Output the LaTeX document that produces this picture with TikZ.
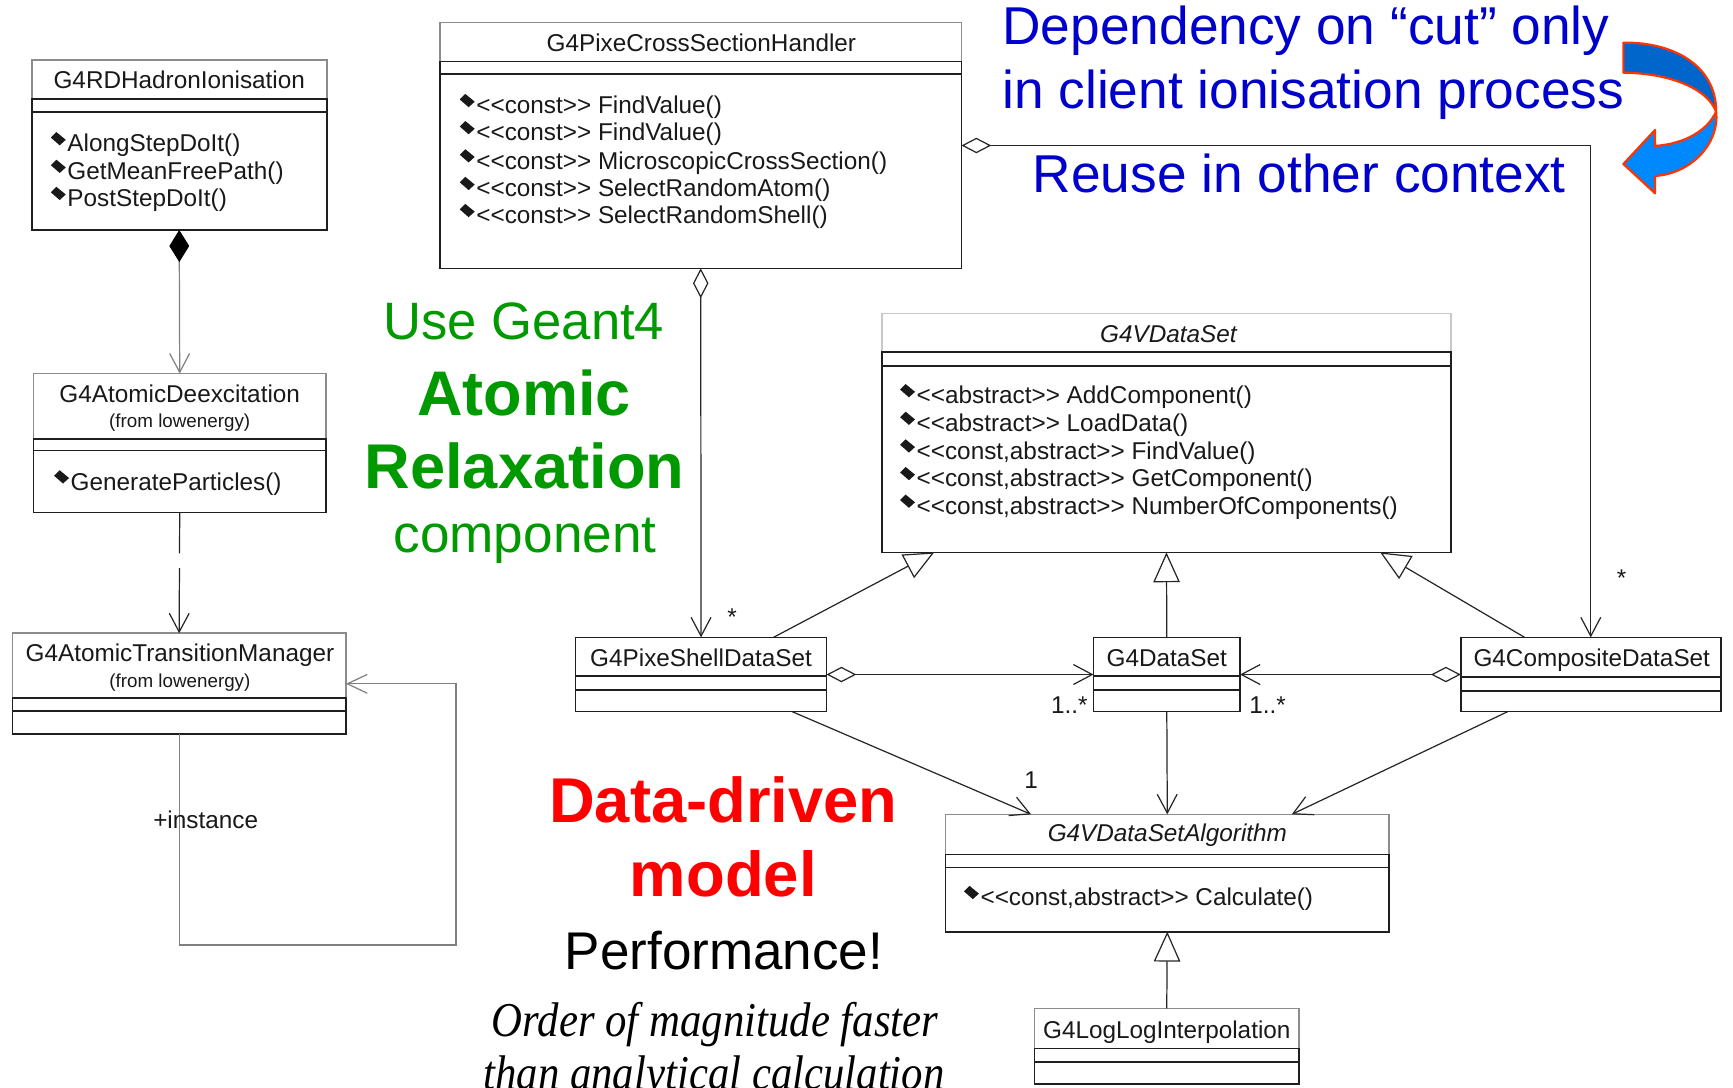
\documentclass[tikz,border=0pt]{standalone}
\usepackage{fontspec}
\usepackage{graphicx}
\setmainfont{Liberation Sans}
\newfontfamily\umlfont{Liberation Sans}
\newfontfamily\serifit{Liberation Serif}
\usetikzlibrary{arrows.meta,calc}
\definecolor{bluetxt}{RGB}{0,0,204}
\definecolor{greentxt}{RGB}{0,153,0}
\definecolor{redtxt}{RGB}{255,0,0}
\definecolor{arrdark}{RGB}{0,102,204}
\definecolor{arrlight}{RGB}{0,136,255}
\definecolor{arredge}{RGB}{255,51,0}
\definecolor{linegray}{RGB}{128,128,128}
\definecolor{titlegray}{RGB}{140,140,140}
\definecolor{titlelight}{RGB}{200,200,200}

\tikzset{
  boxline/.style={line width=1.5pt, draw=black!88},
  conn/.style={line width=1.1pt, draw=black!85},
  grayconn/.style={line width=1.1pt, draw=linegray},
  assoc/.style={conn, -{Straight Barb[length=17pt,width=18pt]}},
  gen/.style={conn, -{Triangle[open,length=27pt,width=24pt]}},
  aggr/.style={conn, {Diamond[open,length=27pt,width=14pt]}-{Straight Barb[length=17pt,width=18pt]}},
  comp/.style={grayconn, {Diamond[color=black,length=29pt,width=18pt]}-{Straight Barb[length=17pt,width=18pt]}},
  depend/.style={conn, dash pattern=on 59pt off 13.5pt, dash phase=22pt, -{Straight Barb[length=17pt,width=18pt]}},
  selfloop/.style={grayconn, -{Straight Barb[length=18pt,width=17pt]}},
  umltxt/.style={inner sep=0pt, outer sep=0pt, text=black!90, font=\umlfont\fontsize{22}{25}\selectfont},
  umlsmall/.style={umltxt, font=\umlfont\fontsize{17}{19}\selectfont},
  umlital/.style={umltxt, font=\umlfont\itshape\fontsize{22}{25}\selectfont},
  bigtxt/.style={inner sep=0pt, outer sep=0pt, anchor=base},
}

% name, left, top, right, line1, line2, bottom, title border colour
\newcommand\umlclass[8]{%
  \node[inner sep=0pt, outer sep=0pt, minimum width={(#4-#2)*1pt}, minimum height={(#7-#3)*1pt}, anchor=north west] (#1) at (#2,#3) {};
  \draw[boxline, draw=#8] (#2,#5) -- (#2,#3) -- (#4,#3) -- (#4,#5);
  \draw[boxline] (#2,#5) -- (#2,#7) -- (#4,#7) -- (#4,#5) -- cycle;
  \draw[boxline] (#2,#6) -- (#4,#6);
}
% name, x of text start, baseline, text
\newcommand\umlop[4]{%
  \fill[black!90] (#2-15,#3-13) -- (#2-10,#3-18) -- (#2-1.5,#3-11) -- (#2-7,#3-6) -- cycle;
  \node[umltxt, anchor=base west] (#1) at (#2,#3) {#4};
}

\begin{document}
\begin{tikzpicture}[x=1pt,y=-1pt]
\useasboundingbox (0,0) rectangle (1568,984);
\fill[white] (0,0) rectangle (1568,984);
\clip (0,0) rectangle (1568,984);

% ---------------- classes ----------------
\umlclass{hadron}{28.7}{54.5}{295.6}{89.7}{101.3}{208.1}{titlegray}
\node[umltxt, anchor=base] (hadronT) at (162.2,80.4) {G4RDHadronIonisation};
\umlop{hadron1}{61}{137.5}{AlongStepDoIt()}
\umlop{hadron2}{61}{162.5}{GetMeanFreePath()}
\umlop{hadron3}{61}{187}{PostStepDoIt()}

\umlclass{deex}{30.2}{338}{295}{397.2}{407.5}{463.6}{titlegray}
\node[umltxt, anchor=base] (deexT) at (162.6,364.5) {G4AtomicDeexcitation};
\node[umlsmall, anchor=base] (deexS) at (162.6,387) {(from lowenergy)};
\umlop{deex1}{64}{443.5}{GenerateParticles()}

\umlclass{atm}{11.2}{573}{313}{631.3}{643.3}{664.4}{titlegray}
\node[umltxt, anchor=base] (atmT) at (162.8,598.7) {G4AtomicTransitionManager};
\node[umlsmall, anchor=base] (atmS) at (162.8,621.9) {(from lowenergy)};

\umlclass{handler}{398.1}{20.5}{869.9}{55.8}{67}{242.8}{titlegray}
\node[umltxt, anchor=base] (handlerT) at (634.6,46.8) {G4PixeCrossSectionHandler};
\umlop{handler1}{431}{103}{<<const>> FindValue()}
\umlop{handler2}{431}{127.5}{<<const>> FindValue()}
\umlop{handler3}{431}{153}{<<const>> MicroscopicCrossSection()}
\umlop{handler4}{431}{178}{<<const>> SelectRandomAtom()}
\umlop{handler5}{431}{202.5}{<<const>> SelectRandomShell()}

\umlclass{vdataset}{797.8}{283.5}{1313}{318.2}{330.9}{499.8}{titlelight}
\node[umlital, anchor=base] (vdatasetT) at (1057.1,310) {G4VDataSet};
\umlop{vds1}{829.4}{365.5}{<<abstract>> AddComponent()}
\umlop{vds2}{829.4}{390.5}{<<abstract>> LoadData()}
\umlop{vds3}{829.4}{415.5}{<<const,abstract>> FindValue()}
\umlop{vds4}{829.4}{440.5}{<<const,abstract>> GetComponent()}
\umlop{vds5}{829.4}{465.5}{<<const,abstract>> NumberOfComponents()}

\umlclass{shell}{520.8}{576.7}{747.8}{611.7}{624.3}{643.9}{black!88}
\node[umltxt, anchor=base] (shellT) at (634.3,602.6) {G4PixeShellDataSet};

\umlclass{dataset}{989.4}{576.7}{1122}{611.7}{624.3}{643.9}{black!88}
\node[umltxt, anchor=base] (datasetT) at (1055.7,602.6) {G4DataSet};

\umlclass{composite}{1321.7}{576.7}{1556.9}{612.3}{625}{643.9}{black!88}
\node[umltxt, anchor=base] (compositeT) at (1440.2,602.6) {G4CompositeDataSet};

\umlclass{vdsa}{855.6}{736.8}{1256.7}{773}{784.8}{843}{titlegray}
\node[umlital, anchor=base] (vdsaT) at (1056.2,761.6) {G4VDataSetAlgorithm};
\umlop{vdsa1}{887.2}{819.5}{<<const,abstract>> Calculate()}

\umlclass{loglog}{936}{912.4}{1175.3}{948.6}{960.6}{980.8}{titlegray}
\node[umltxt, anchor=base] (loglogT) at (1055.7,939.5) {G4LogLogInterpolation};

% ---------------- connectors ----------------
\draw[comp] (hadron.south) -- (deex.north);
\draw[depend] (deex.south) -- (atm.north);
\coordinate (loopc) at (412.6,855);
\draw[selfloop] (atm.south) |- (loopc) |- (atm.east);
\node[umltxt, anchor=base west] (inst) at (138.7,749.5) {+instance};

\draw[aggr] (handler.south) -- (shell.north);
\node[umltxt, anchor=base west] (m1) at (658,566) {*};
\draw[aggr] (handler.east) -| (composite.north);
\node[umltxt, anchor=base west] (m2) at (1463,531) {*};

\draw[aggr] (shell.east) -- (dataset.west);
\node[umltxt, anchor=base west] (m3) at (951,645.4) {1..*};
\draw[aggr] (composite.west) -- (dataset.east);
\node[umltxt, anchor=base west] (m4) at (1130.4,645.4) {1..*};

\draw[gen] ([xshift=-48pt]shell.north east) -- ([xshift=47.4pt]vdataset.south west);
\draw[gen] (dataset.north) -- (vdataset.south);
\draw[gen] ([xshift=57.8pt]composite.north west) -- ([xshift=-64.2pt]vdataset.south east);

\draw[assoc] ([xshift=-31pt]shell.south east) -- ([xshift=77.3pt]vdsa.north west);
\node[umltxt, anchor=base] (m5) at (933,713) {1};
\draw[assoc] (dataset.south) -- (vdsa.north);
\draw[assoc] ([xshift=42.4pt]composite.south west) -- ([xshift=-87.9pt]vdsa.north east);
\draw[gen] (loglog.north) -- (vdsa.south);

% ---------------- annotations ----------------
\node[bigtxt, anchor=base west, text=bluetxt, font=\fontsize{48.2}{55}\selectfont] (b1) at (907,40.7) {Dependency on “cut” only};
\node[bigtxt, anchor=base west, text=bluetxt, font=\fontsize{48.2}{55}\selectfont] (b2) at (907,98) {in client ionisation process};
\node[bigtxt, anchor=base west, text=bluetxt, font=\fontsize{48.2}{55}\selectfont] (b3) at (934.5,174.6) {Reuse in other context};

\filldraw[fill=arrdark, draw=arredge, line width=2pt, line join=round]
  (1468.8,38.6) .. controls (1515,38) and (1553,60) .. (1552.7,101)
  .. controls (1545,80) and (1510,66) .. (1468.8,65.8) -- cycle;
\filldraw[fill=arrlight, draw=arredge, line width=2pt, line join=round]
  (1552.7,101) .. controls (1556,130) and (1530,157) .. (1497.5,159.2)
  -- (1497.5,174.9) -- (1468.8,148.4) -- (1497.5,117.6) -- (1497.5,132.1)
  .. controls (1525,130) and (1545,118) .. (1552.7,101) -- cycle;

\node[bigtxt, text=greentxt, font=\fontsize{47.6}{52}\selectfont] (g1) at (474,307) {Use Geant4};
\node[bigtxt, text=greentxt, font=\bfseries\fontsize{57}{62}\selectfont] (g2) at (474,376) {Atomic};
\node[bigtxt, text=greentxt, font=\bfseries\fontsize{57.2}{62}\selectfont] (g3) at (474.5,442) {Relaxation};
\node[bigtxt, text=greentxt, font=\fontsize{48.1}{52}\selectfont] (g4) at (475,500) {component};

\node[bigtxt, text=redtxt, font=\bfseries\fontsize{57.3}{62}\selectfont] (r1) at (654.5,744) {Data-driven};
\node[bigtxt, text=redtxt, font=\bfseries\fontsize{57.4}{62}\selectfont] (r2) at (654.5,811) {model};
\node[bigtxt, text=black, font=\fontsize{48}{52}\selectfont] (p1) at (655,877) {Performance!};
\node[bigtxt, text=black] (o1) at (647,938) {\scalebox{0.88}[1]{\serifit\itshape\fontsize{44}{50}\selectfont Order of magnitude faster}};
\node[bigtxt, text=black] (o2) at (646,986) {\scalebox{0.88}[1]{\serifit\itshape\fontsize{44}{50}\selectfont than analytical calculation}};
\end{tikzpicture}
\end{document}
